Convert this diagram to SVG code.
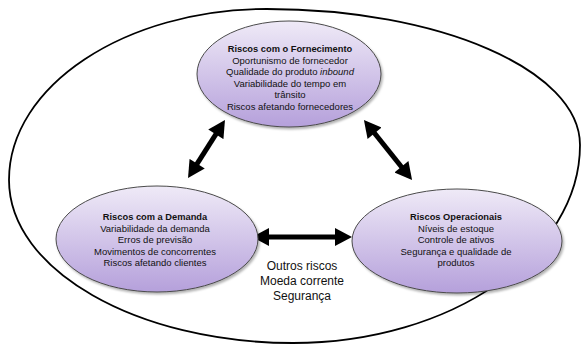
<svg xmlns="http://www.w3.org/2000/svg" width="581" height="344" viewBox="0 0 581 344">
<style>
  .node { fill: url(#lav); stroke: #4a4a4a; stroke-width: 1; filter: url(#sh); }
  .t { font-family: "Liberation Sans", Arial, sans-serif; font-size: 9.5px; fill: #111; text-anchor: middle; }
  .b { font-weight: bold; font-size: 9.3px; }
  .c { font-family: "Liberation Sans", Arial, sans-serif; font-size: 12px; fill: #111; text-anchor: middle; }
  .arrow { stroke: #000; stroke-width: 5; fill: none; marker-start: url(#ah); marker-end: url(#ah); }
</style>
<defs>
  <linearGradient id="lav" x1="0" y1="0" x2="0" y2="1">
    <stop offset="0" stop-color="#efeaf7"/>
    <stop offset="1" stop-color="#b5a0db"/>
  </linearGradient>
  <filter id="sh" x="-10%" y="-10%" width="125%" height="130%">
    <feDropShadow dx="1.5" dy="2" stdDeviation="1.2" flood-color="#000" flood-opacity="0.3"/>
  </filter>
  <marker id="ah" markerUnits="userSpaceOnUse" markerWidth="18" markerHeight="18" viewBox="0 0 17 18" refX="7" refY="9" orient="auto-start-reverse">
    <path d="M0,0 L17,9 L0,18 z" fill="#000"/>
  </marker>
</defs>
<rect width="581" height="344" fill="#fff"/>
<path d="M267,9 C439,9 580,70 580,145 C580,254 451,343 293,343 C137,343 9,270 9,180 C9,86 125,9 267,9 Z" fill="none" stroke="#000" stroke-width="1.8"/>

<g id="connectors">
  <line class="arrow" x1="219.6" y1="128.4" x2="193.4" y2="169.6"/>
  <line class="arrow" x1="370.2" y1="127.8" x2="405.8" y2="172.2"/>
  <line class="arrow" x1="262" y1="237" x2="342" y2="237"/>
</g>

<g id="fornecimento">
  <ellipse class="node" cx="289" cy="74" rx="92" ry="53"/>
  <text class="t b" x="290" y="52">Riscos com o Fornecimento</text>
  <text class="t" x="290" y="63.5">Oportunismo de fornecedor</text>
  <text class="t" x="290" y="75">Qualidade do produto <tspan font-style="italic">inbound</tspan></text>
  <text class="t" x="290" y="86.5">Variabilidade do tempo em</text>
  <text class="t" x="290" y="98">trânsito</text>
  <text class="t" x="290" y="109.5">Riscos afetando fornecedores</text>
</g>

<g id="demanda">
  <ellipse class="node" cx="157" cy="239" rx="101" ry="53"/>
  <text class="t b" x="155" y="220">Riscos com a Demanda</text>
  <text class="t" x="155" y="231.5">Variabilidade da demanda</text>
  <text class="t" x="155" y="243">Erros de previsão</text>
  <text class="t" x="155" y="254.5">Movimentos de concorrentes</text>
  <text class="t" x="155" y="266">Riscos afetando clientes</text>
</g>

<g id="operacionais">
  <ellipse class="node" cx="457" cy="241" rx="105" ry="52"/>
  <text class="t b" x="456" y="220">Riscos Operacionais</text>
  <text class="t" x="456" y="231.5">Níveis de estoque</text>
  <text class="t" x="456" y="243">Controle de ativos</text>
  <text class="t" x="456" y="254.5">Segurança e qualidade de</text>
  <text class="t" x="456" y="266">produtos</text>
</g>

<g id="outros">
  <text class="c" x="302" y="270">Outros riscos</text>
  <text class="c" x="302" y="285">Moeda corrente</text>
  <text class="c" x="302" y="300">Segurança</text>
</g>
</svg>
